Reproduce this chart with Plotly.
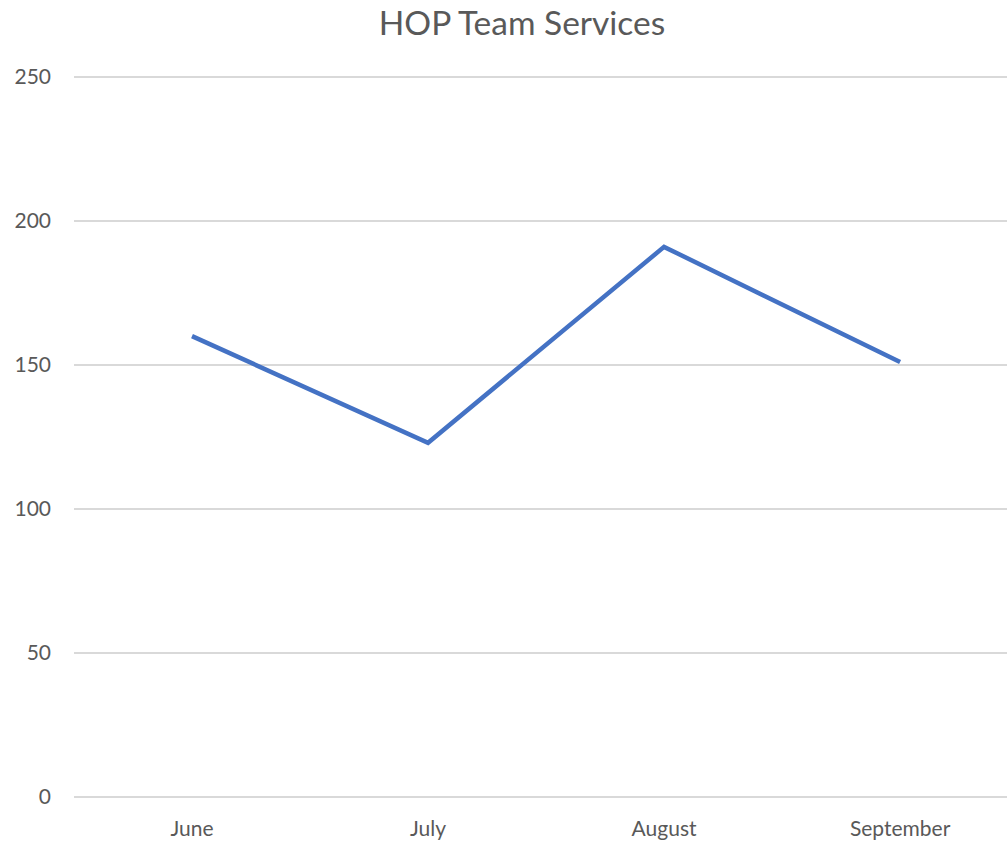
import plotly.graph_objects as go

months = ["June", "July", "August", "September"]
services = [160, 123, 191, 151]
y_ticks = [0, 50, 100, 150, 200, 250]

fig = go.Figure()
fig.add_trace(go.Scatter(
    x=months, y=services, mode="lines",
    line=dict(color="#4472C4", width=4.5),
    showlegend=False,
))

fig.update_layout(
    width=1007, height=842,
    margin=dict(l=74, r=0, t=74, b=42),
    paper_bgcolor="white", plot_bgcolor="white",
    font=dict(family="Lato, Carlito, Calibri, sans-serif", color="#595959", size=21),
    title=dict(text="HOP Team Services", x=522 / 1007, xanchor="center",
               y=1 - 23 / 842, yanchor="middle",
               font=dict(size=33.5, color="#595959")),
)
fig.update_xaxes(
    type="category", range=[-0.5, 3.453], showgrid=False, showline=False,
    ticks="", tickfont=dict(size=21, color="#595959"), ticklabelstandoff=14,
)
fig.update_yaxes(
    range=[-1, 251], tickvals=y_ticks, showgrid=True, gridcolor="#D9D9D9", gridwidth=1.5,
    zeroline=False, showline=False, ticks="", ticklabelstandoff=22,
    tickfont=dict(size=21, color="#595959"),
)

fig.write_html(
    "out.html",
    config={"displayModeBar": False},
    post_script="document.body.style.margin='0';document.body.style.overflow='hidden';",
)
